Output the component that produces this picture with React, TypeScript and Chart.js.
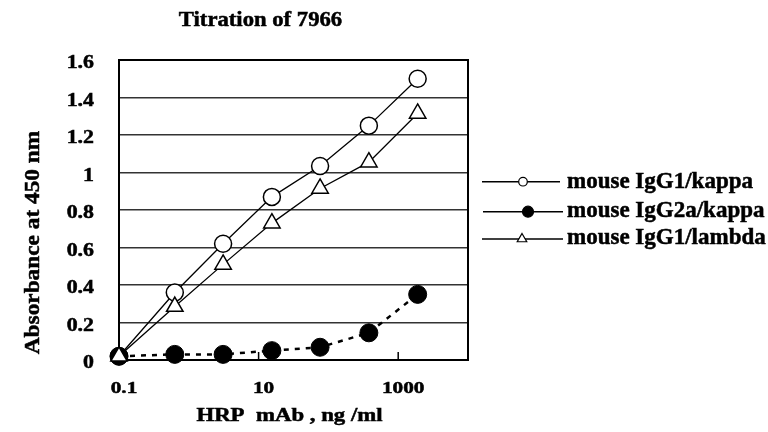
import React, { useEffect, useRef } from 'react';
import { Chart, registerables } from 'chart.js';

Chart.register(...registerables);

const concentrations = [0.1, 0.63, 3.1, 15.5, 76, 380, 1900];
const igg1Kappa = [0.02, 0.36, 0.62, 0.87, 1.035, 1.25, 1.5];
const igg2aKappa = [0.02, 0.03, 0.03, 0.05, 0.068, 0.145, 0.35];
const igg1Lambda = [0.02, 0.285, 0.51, 0.73, 0.915, 1.055, 1.315];
const seriesNames = ['mouse IgG1/kappa', 'mouse IgG2a/kappa', 'mouse IgG1/lambda'];
const xTickValues = [0.1, 10, 1000];
const xTickLabels = ['0.1', '10', '1000'];
const yTickValues = [0, 0.2, 0.4, 0.6, 0.8, 1, 1.2, 1.4, 1.6];
const yTickLabels = ['0', '0.2', '0.4', '0.6', '0.8', '1', '1.2', '1.4', '1.6'];
const titleText = 'Titration of 7966';
const xTitleText = 'HRP  mAb , ng /ml';
const yTitleText = 'Absorbance at 450 nm';

const SERIF = '"Liberation Serif", "Times New Roman", serif';

function drawText(
  ctx: CanvasRenderingContext2D,
  text: string,
  x: number,
  y: number,
  size: number,
  align: CanvasTextAlign,
  sx: number,
  rot = 0
) {
  ctx.save();
  ctx.translate(x, y);
  if (rot) ctx.rotate(rot);
  ctx.scale(sx, 1);
  ctx.font = `bold ${size}px ${SERIF}`;
  ctx.fillStyle = '#000';
  ctx.strokeStyle = '#000';
  ctx.lineWidth = 0.5;
  ctx.textAlign = align;
  ctx.textBaseline = 'alphabetic';
  ctx.fillText(text, 0, 0);
  ctx.strokeText(text, 0, 0);
  ctx.restore();
}

function drawMarker(ctx: CanvasRenderingContext2D, style: string, x: number, y: number, r: number, filled: boolean) {
  ctx.save();
  ctx.beginPath();
  if (style === 'triangle') {
    ctx.moveTo(x, y - r);
    ctx.lineTo(x + r * Math.cos(Math.PI / 6), y + r / 2);
    ctx.lineTo(x - r * Math.cos(Math.PI / 6), y + r / 2);
    ctx.closePath();
  } else {
    ctx.arc(x, y, r, 0, Math.PI * 2);
  }
  ctx.fillStyle = filled ? '#000' : '#fff';
  ctx.fill();
  ctx.lineWidth = 1.2;
  ctx.strokeStyle = '#000';
  ctx.stroke();
  ctx.restore();
}

const framePlugin = {
  id: 'frame',
  beforeDatasetsDraw(chart: any) {
    const { ctx, chartArea: a } = chart;
    const xs = chart.scales.x;
    ctx.save();
    ctx.strokeStyle = '#000';
    ctx.lineWidth = 2;
    ctx.strokeRect(a.left, a.top, a.right - a.left, a.bottom - a.top);
    ctx.lineWidth = 1.5;
    xTickValues.forEach((v) => {
      const px = xs.getPixelForValue(v);
      if (px > a.left + 2) {
        ctx.beginPath();
        ctx.moveTo(px, a.bottom);
        ctx.lineTo(px, a.bottom - 8);
        ctx.stroke();
      }
    });
    ctx.restore();
  },
  afterDraw(chart: any) {
    const { ctx } = chart;
    const xs = chart.scales.x;
    const ys = chart.scales.y;
    // y tick labels
    yTickValues.forEach((v, i) => {
      drawText(ctx, yTickLabels[i], 94, ys.getPixelForValue(v) + 8, 19, 'right', 1.15);
    });
    // x tick labels
    xTickValues.forEach((v, i) => {
      drawText(ctx, xTickLabels[i], xs.getPixelForValue(v) + 5, 392.5, 17, 'center', 1.25);
    });
    // title
    drawText(ctx, titleText, 260.5, 25.5, 21, 'center', 1.08);
    // axis titles
    drawText(ctx, xTitleText, 289.5, 420.5, 19, 'center', 1.2);
    drawText(ctx, yTitleText, 38.5, 242.5, 22, 'center', 1.06, -Math.PI / 2);
    // legend
    const rows = [
      { y: 181.7, x0: 482, x1: 560, mx: 523, style: 'circle', r: 4.3, filled: false, ty: 187.5 },
      { y: 211.7, x0: 483, x1: 563, mx: 528, style: 'circle', r: 5.5, filled: true, ty: 216.8 },
      { y: 239, x0: 482, x1: 563, mx: 522, style: 'triangle', r: 5.5, filled: false, ty: 244 },
    ];
    rows.forEach((row, i) => {
      ctx.save();
      ctx.strokeStyle = '#000';
      ctx.lineWidth = 1.5;
      ctx.beginPath();
      ctx.moveTo(row.x0, row.y);
      ctx.lineTo(row.x1, row.y);
      ctx.stroke();
      ctx.restore();
      drawMarker(ctx, row.style, row.mx, row.y, row.r, row.filled);
      drawText(ctx, seriesNames[i], 567, row.ty, 23, 'left', 1);
    });
  },
};

export default function App() {
  const ref = useRef<HTMLCanvasElement | null>(null);

  useEffect(() => {
    if (!ref.current) return;
    const toPts = (ys: number[]) => concentrations.map((x, i) => ({ x, y: ys[i] }));
    const chart = new Chart(ref.current, {
      type: 'line',
      data: {
        datasets: [
          {
            label: seriesNames[0],
            data: toPts(igg1Kappa),
            borderColor: '#000',
            borderWidth: 1.3,
            pointStyle: 'circle',
            pointRadius: 8.5,
            pointBackgroundColor: '#fff',
            pointBorderColor: '#000',
            pointBorderWidth: 1.5,
            tension: 0,
            clip: false,
            order: 3,
          } as any,
          {
            label: seriesNames[1],
            data: toPts(igg2aKappa),
            borderColor: '#000',
            borderWidth: 2.5,
            borderDash: [5, 6],
            pointStyle: 'circle',
            pointRadius: 9,
            pointBackgroundColor: '#000',
            pointBorderColor: '#000',
            pointBorderWidth: 1,
            tension: 0,
            clip: false,
            order: 2,
          } as any,
          {
            label: seriesNames[2],
            data: toPts(igg1Lambda),
            borderColor: '#000',
            borderWidth: 1.3,
            pointStyle: 'triangle',
            pointRadius: 9.5,
            pointBackgroundColor: '#fff',
            pointBorderColor: '#000',
            pointBorderWidth: 1.5,
            tension: 0,
            clip: false,
            order: 1,
          } as any,
        ],
      },
      options: {
        responsive: false,
        animation: false,
        events: [],
        layout: { padding: { left: 119, right: 300, top: 60, bottom: 72 } },
        plugins: {
          legend: { display: false },
          tooltip: { enabled: false },
          title: { display: false },
        },
        scales: {
          x: {
            type: 'logarithmic',
            min: 0.1,
            max: 10000,
            display: false,
          },
          y: {
            type: 'linear',
            min: 0,
            max: 1.6,
            display: true,
            afterBuildTicks: (scale: any) => {
              scale.ticks = yTickValues.map((v) => ({ value: v }));
            },
            ticks: { display: false },
            border: { display: false },
            grid: { color: '#333', lineWidth: 1.4, drawTicks: false, tickLength: 0 },
          },
        },
      },
      plugins: [framePlugin],
    });
    return () => chart.destroy();
  }, []);

  return (
    <div style={{ position: 'fixed', left: 0, top: 0, width: 768, height: 432, background: '#fff' }}>
      <canvas ref={ref} width={768} height={432} style={{ width: 768, height: 432, display: 'block' }} />
    </div>
  );
}
